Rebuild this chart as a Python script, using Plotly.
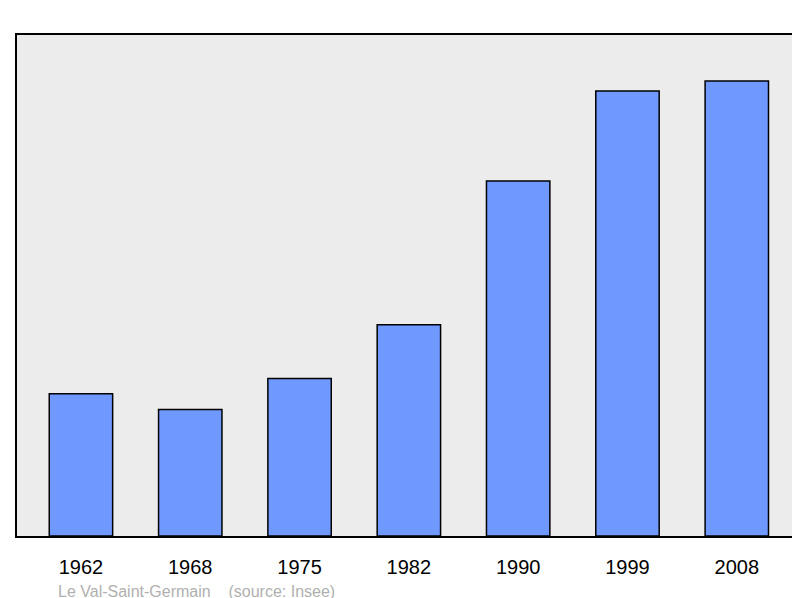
import plotly.graph_objects as go

years = ["1962", "1968", "1975", "1982", "1990", "1999", "2008"]
population = [460, 409, 509, 683, 1147, 1438, 1470]
labels = ["460", "409", "509", "683", "1 147", "1 438", "1 470"]

fig = go.Figure(go.Bar(
    x=years, y=population,
    marker=dict(color="#7099ff", line=dict(color="black", width=1.5)),
    width=0.58,
))
for yr, v, lab in zip(years, population, labels):
    fig.add_annotation(x=yr, y=v, text=lab, showarrow=False, yanchor="bottom", yshift=12,
                       font=dict(size=17, color="black", family="Liberation Sans"))
fig.update_layout(
    width=800, height=598, margin=dict(l=9, r=10, t=27, b=70, autoexpand=False),
    paper_bgcolor="white", plot_bgcolor="#ececec", showlegend=False,
    font=dict(family="Liberation Sans"),
    xaxis=dict(type="category", range=[-0.585, 6.56], showline=True, linecolor="black",
               linewidth=2, mirror=True, ticks="outside", ticklen=12, tickcolor="rgba(0,0,0,0)",
               tickfont=dict(size=20, color="black")),
    yaxis=dict(range=[0, 1619], showgrid=False, showticklabels=False, zeroline=False,
               showline=True, linecolor="black", linewidth=2, mirror=True),
)
fig.add_annotation(text="Le Val-Saint-Germain&nbsp;&nbsp;&nbsp;&nbsp;(source: Insee)",
                   xref="paper", yref="paper", x=0.05, y=-0.11, xanchor="left",
                   yanchor="middle", showarrow=False,
                   font=dict(size=16, color="#b0b0b0", family="Liberation Sans"))
fig.write_html("out.html")
